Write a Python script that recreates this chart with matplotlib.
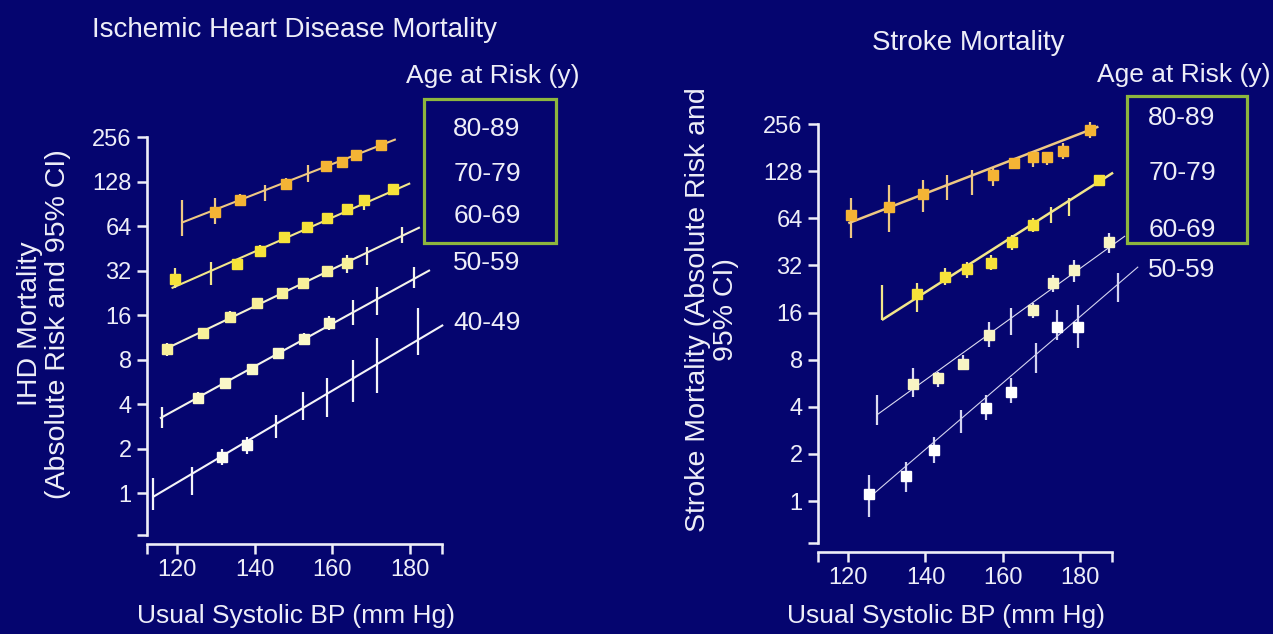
import matplotlib
matplotlib.use('Agg')
import matplotlib.pyplot as plt
from matplotlib.patches import Rectangle
from matplotlib.ticker import FixedLocator, FixedFormatter, NullFormatter

plt.rcParams['font.family'] = ['Liberation Sans', 'DejaVu Sans']

# ---------------- data ----------------
y_ticks = [1, 2, 4, 8, 16, 32, 64, 128, 256]
y_tick_labels = ['1', '2', '4', '8', '16', '32', '64', '128', '256']
x_ticks = [120, 140, 160, 180]
x_tick_labels = ['120', '140', '160', '180']

# IHD mortality (left panel)
ihd_80_bp = [121.2, 129.8, 136.2, 142.7, 148.1, 153.8, 158.4, 162.4, 166.1, 172.5]
ihd_80_risk = [67, 80, 96, 107, 124, 142, 163, 174, 193, 226]
ihd_80_lo = [55, 66, 88, 94, 114, 128, 152, 162, 180, 210]
ihd_80_hi = [96, 99, 106, 121, 136, 165, 176, 187, 207, 244]
ihd_80_marker = [0, 1, 1, 0, 1, 0, 1, 1, 1, 1]
ihd_80_fit_bp = [121.2, 176.4]
ihd_80_fit_risk = [67.4, 247]

ihd_70_bp = [119.5, 128.7, 135.4, 141.4, 147.6, 153.4, 158.6, 163.7, 168.2, 175.7]
ihd_70_risk = [27.9, 30.6, 35.4, 43.6, 54.2, 62.7, 72.2, 83, 96, 113.4]
ihd_70_lo = [24.3, 25.5, 32.5, 40, 50, 58, 67, 77, 82, 105]
ihd_70_hi = [33.1, 36.7, 38.5, 47.5, 58.5, 68, 78, 89, 104, 122]
ihd_70_marker = [1, 0, 1, 1, 1, 1, 1, 1, 1, 1]
ihd_70_fit_bp = [118.6, 180.1]
ihd_70_fit_risk = [24.3, 124.5]

ihd_60_bp = [117.3, 126.8, 133.7, 140.7, 147.0, 152.6, 158.6, 163.7, 168.9, 177.9]
ihd_60_risk = [9.38, 12.0, 15.6, 19.2, 22.6, 26.5, 31.9, 36.1, 40.7, 55.6]
ihd_60_lo = [8.5, 11.0, 14.4, 17.8, 21.0, 24.5, 29.5, 30.6, 34.9, 48.9]
ihd_60_hi = [10.4, 13.1, 16.9, 20.7, 24.3, 28.6, 34.4, 40.7, 46.4, 63.3]
ihd_60_marker = [1, 1, 1, 1, 1, 1, 1, 1, 0, 0]
ihd_60_fit_bp = [116.5, 182.6]
ihd_60_fit_risk = [9.28, 62.7]

ihd_50_bp = [116.1, 125.5, 132.4, 139.3, 146.1, 152.7, 159.3, 165.3, 171.6, 181.1]
ihd_50_risk = [3.2, 4.37, 5.52, 6.87, 8.81, 10.96, 14.06, 16.85, 20.4, 28.3]
ihd_50_lo = [2.74, 4.0, 5.05, 6.3, 8.1, 10.0, 12.6, 13.7, 16.0, 24.3]
ihd_50_hi = [3.84, 4.8, 6.0, 7.5, 9.6, 12.0, 15.7, 20.2, 24.9, 33.9]
ihd_50_marker = [0, 1, 1, 1, 1, 1, 1, 0, 0, 0]
ihd_50_fit_bp = [115.6, 185.2]
ihd_50_fit_risk = [3.2, 32.2]

ihd_40_bp = [113.9, 123.8, 131.5, 138.1, 145.5, 152.4, 158.6, 165.3, 171.6, 182.2]
ihd_40_risk = [0.944, 1.257, 1.76, 2.11, 2.81, 3.80, 4.73, 5.81, 7.34, 10.56]
ihd_40_lo = [0.767, 0.97, 1.55, 1.85, 2.34, 3.12, 3.28, 4.15, 4.73, 8.58]
ihd_40_hi = [1.26, 1.51, 2.0, 2.4, 3.37, 4.84, 5.97, 7.94, 11.1, 17.8]
ihd_40_marker = [0, 0, 1, 1, 0, 0, 0, 0, 0, 0]
ihd_40_fit_bp = [113.9, 188.6]
ihd_40_fit_risk = [0.944, 13.7]

# Stroke mortality (right panel)
str_80_bp = [120.6, 130.6, 139.4, 145.5, 152.0, 157.4, 162.9, 167.8, 171.6, 175.5, 182.6]
str_80_risk = [67.3, 75.4, 91.3, 101, 110, 121, 144, 157, 157, 173, 235]
str_80_lo = [47.8, 52.6, 70.6, 83.9, 90.3, 103, 134, 137, 140, 153, 208]
str_80_hi = [86, 104.6, 112.6, 121, 130.5, 134, 155, 171, 171, 193, 266]
str_80_marker = [1, 1, 1, 0, 0, 1, 1, 1, 1, 1, 1]
str_80_fit_bp = [120.0, 184.8]
str_80_fit_risk = [59.6, 247]

str_70_bp = [128.7, 137.9, 145.1, 150.7, 156.9, 162.5, 167.9, 172.4, 177.3, 185.0]
str_70_risk = [18.6, 21.0, 27.1, 30.3, 33.3, 45.4, 58.1, 67.3, 75.7, 112.6]
str_70_lo = [14.35, 16.2, 24.0, 26.5, 29.9, 40.2, 52.6, 59.6, 66.3, 105]
str_70_hi = [24.0, 24.6, 30.7, 33.8, 37.3, 50.1, 64.1, 76, 86.4, 121]
str_70_marker = [0, 1, 1, 1, 1, 1, 1, 0, 0, 1]
str_70_fit_bp = [128.7, 188.6]
str_70_fit_risk = [14.35, 125.4]

str_60_bp = [127.4, 136.7, 143.2, 149.8, 156.5, 162.1, 167.8, 173.1, 178.5, 187.6]
str_60_risk = [3.82, 5.6, 6.14, 7.51, 11.5, 14.0, 16.6, 24.8, 29.9, 45.4]
str_60_lo = [3.06, 4.64, 5.38, 6.87, 9.69, 11.5, 14.7, 21.8, 25.2, 38.3]
str_60_hi = [4.76, 7.05, 6.70, 8.57, 14.0, 17.0, 18.3, 27.8, 34.7, 51.4]
str_60_marker = [0, 1, 1, 1, 1, 0, 1, 1, 1, 1]
str_60_fit_bp = [127.4, 191.7]
str_60_fit_risk = [3.55, 49.4]

str_50_bp = [125.4, 134.9, 142.2, 149.1, 155.7, 162.1, 168.6, 174.1, 179.6, 190.0]
str_50_risk = [1.11, 1.44, 2.12, 3.21, 3.91, 5.0, 8.17, 13.0, 12.9, 22.9]
str_50_lo = [0.79, 1.15, 1.74, 2.71, 3.29, 4.21, 6.55, 10.7, 9.46, 18.8]
str_50_hi = [1.47, 1.78, 2.58, 3.82, 4.76, 6.08, 10.2, 16.6, 17.9, 28.5]
str_50_marker = [1, 1, 1, 0, 1, 1, 0, 1, 1, 0]
str_50_fit_bp = [125.2, 195.1]
str_50_fit_risk = [1.04, 31.4]

ihd_age_labels = ['80-89', '70-79', '60-69', '50-59', '40-49']
stroke_age_labels = ['80-89', '70-79', '60-69', '50-59']

# ---------------- styling ----------------
W, H = 1273, 634
BG = '#05056F'
FG = '#EEEEF8'
BOX = '#8DB63E'

fig = plt.figure(figsize=(W / 100, H / 100), dpi=100, facecolor=BG)


def rect(x0, x1, ytop, ybot):
    return [x0 / W, 1 - ybot / H, (x1 - x0) / W, (ybot - ytop) / H]


def fx(x):
    return x / W


def fy(y):
    return 1 - y / H


ax1 = fig.add_axes(rect(147, 442, 137, 535))
ax2 = fig.add_axes(rect(818, 1111.7, 124, 543))


def setup(ax, xlim, ylim):
    ax.set_facecolor(BG)
    ax.set_yscale('log')
    ax.set_xlim(*xlim)
    ax.set_ylim(*ylim)
    for s in ['top', 'right']:
        ax.spines[s].set_visible(False)
    ax.spines['left'].set_bounds(ylim[0], 256)
    ax.spines['bottom'].set_position(('outward', 6.5))
    for s in ['left', 'bottom']:
        ax.spines[s].set_color(FG)
        ax.spines[s].set_linewidth(1.9)
    ax.yaxis.set_major_locator(FixedLocator(y_ticks))
    ax.yaxis.set_major_formatter(FixedFormatter(y_tick_labels))
    ax.yaxis.set_minor_locator(FixedLocator([ylim[0] * 1.0001]))
    ax.yaxis.set_minor_formatter(NullFormatter())
    ax.xaxis.set_major_locator(FixedLocator(x_ticks))
    ax.xaxis.set_major_formatter(FixedFormatter(x_tick_labels))
    ax.xaxis.set_minor_locator(FixedLocator([xlim[0] + 0.01, xlim[1] - 0.01]))
    ax.xaxis.set_minor_formatter(NullFormatter())
    ax.tick_params(which='both', direction='out', length=7, width=1.8,
                   color=FG, labelcolor=FG, labelsize=17, pad=4)


def draw(ax, bp, risk, lo, hi, marker, fit_bp, fit_risk, mcolor, lcolor, lw, ms):
    ax.plot(fit_bp, fit_risk, color=lcolor, lw=lw, solid_capstyle='butt',
            clip_on=False, zorder=2)
    ax.vlines(bp, lo, hi, color=lcolor, lw=1.6, clip_on=False, zorder=3)
    mx = [x for x, m in zip(bp, marker) if m]
    my = [y for y, m in zip(risk, marker) if m]
    ax.plot(mx, my, 's', ms=ms, color=mcolor, mec=mcolor, clip_on=False, zorder=4)


setup(ax1, (112.27, 188.30), (0.520, 256))
setup(ax2, (112.15, 188.24), (0.539, 256.7))

draw(ax1, ihd_80_bp, ihd_80_risk, ihd_80_lo, ihd_80_hi, ihd_80_marker,
     ihd_80_fit_bp, ihd_80_fit_risk, '#F4B435', '#EEC883', 1.5, 7.5)
draw(ax1, ihd_70_bp, ihd_70_risk, ihd_70_lo, ihd_70_hi, ihd_70_marker,
     ihd_70_fit_bp, ihd_70_fit_risk, '#F6E23A', '#F2E68A', 1.5, 7.5)
draw(ax1, ihd_60_bp, ihd_60_risk, ihd_60_lo, ihd_60_hi, ihd_60_marker,
     ihd_60_fit_bp, ihd_60_fit_risk, '#F8F09A', '#F4F2D2', 1.5, 7.5)
draw(ax1, ihd_50_bp, ihd_50_risk, ihd_50_lo, ihd_50_hi, ihd_50_marker,
     ihd_50_fit_bp, ihd_50_fit_risk, '#FAF8C8', '#F4F4EC', 1.5, 7.5)
draw(ax1, ihd_40_bp, ihd_40_risk, ihd_40_lo, ihd_40_hi, ihd_40_marker,
     ihd_40_fit_bp, ihd_40_fit_risk, '#FBFBF0', '#F4F4F8', 1.5, 7.5)

draw(ax2, str_80_bp, str_80_risk, str_80_lo, str_80_hi, str_80_marker,
     str_80_fit_bp, str_80_fit_risk, '#F4B435', '#EEC883', 1.8, 6.5)
draw(ax2, str_70_bp, str_70_risk, str_70_lo, str_70_hi, str_70_marker,
     str_70_fit_bp, str_70_fit_risk, '#F6E23A', '#F2E68A', 1.8, 7)
draw(ax2, str_60_bp, str_60_risk, str_60_lo, str_60_hi, str_60_marker,
     str_60_fit_bp, str_60_fit_risk, '#F8F4C4', '#DCDCF0', 0.8, 7.5)
draw(ax2, str_50_bp, str_50_risk, str_50_lo, str_50_hi, str_50_marker,
     str_50_fit_bp, str_50_fit_risk, '#FFFFFF', '#D4D4F0', 0.8, 7.5)

# ---------------- text ----------------
fig.text(fx(295), fy(36.7), 'Ischemic Heart Disease Mortality', color=FG,
         fontsize=20, ha='center', va='baseline')
fig.text(fx(968), fy(50), 'Stroke Mortality', color=FG,
         fontsize=20, ha='center', va='baseline')

fig.text(fx(296), fy(623), 'Usual Systolic BP (mm Hg)', color=FG,
         fontsize=19, ha='center', va='baseline')
fig.text(fx(946), fy(623), 'Usual Systolic BP (mm Hg)', color=FG,
         fontsize=19, ha='center', va='baseline')

fig.text(fx(44), fy(324), 'IHD Mortality\n(Absolute Risk and 95% CI)', color=FG,
         fontsize=20.5, ha='center', va='center', rotation=90,
         multialignment='center', linespacing=1.1)
fig.text(fx(712), fy(310), 'Stroke Mortality (Absolute Risk and\n95% CI)', color=FG,
         fontsize=20.5, ha='center', va='center', rotation=90,
         multialignment='center', linespacing=1.1)

fig.text(fx(493), fy(83), 'Age at Risk (y)', color=FG, fontsize=19,
         ha='center', va='baseline')
fig.text(fx(1184), fy(82), 'Age at Risk (y)', color=FG, fontsize=19,
         ha='center', va='baseline')

fig.add_artist(Rectangle((fx(424), fy(243)), (556 - 424) / W, (243 - 99.3) / H,
                         transform=fig.transFigure, fill=False, ec=BOX, lw=2.3))
fig.add_artist(Rectangle((fx(1126.7), fy(242.7)), (1246.7 - 1126.7) / W,
                         (242.7 - 96) / H, transform=fig.transFigure,
                         fill=False, ec=BOX, lw=2.3))

for lab, yb in zip(ihd_age_labels, [136, 181, 223.3, 270.3, 330.3]):
    fig.text(fx(487), fy(yb), lab, color=FG, fontsize=19, ha='center', va='baseline')
for lab, yb in zip(stroke_age_labels, [125, 180, 236.7, 276.7]):
    fig.text(fx(1182), fy(yb), lab, color=FG, fontsize=19, ha='center', va='baseline')

fig.savefig('out.png', dpi=100, facecolor=BG)
